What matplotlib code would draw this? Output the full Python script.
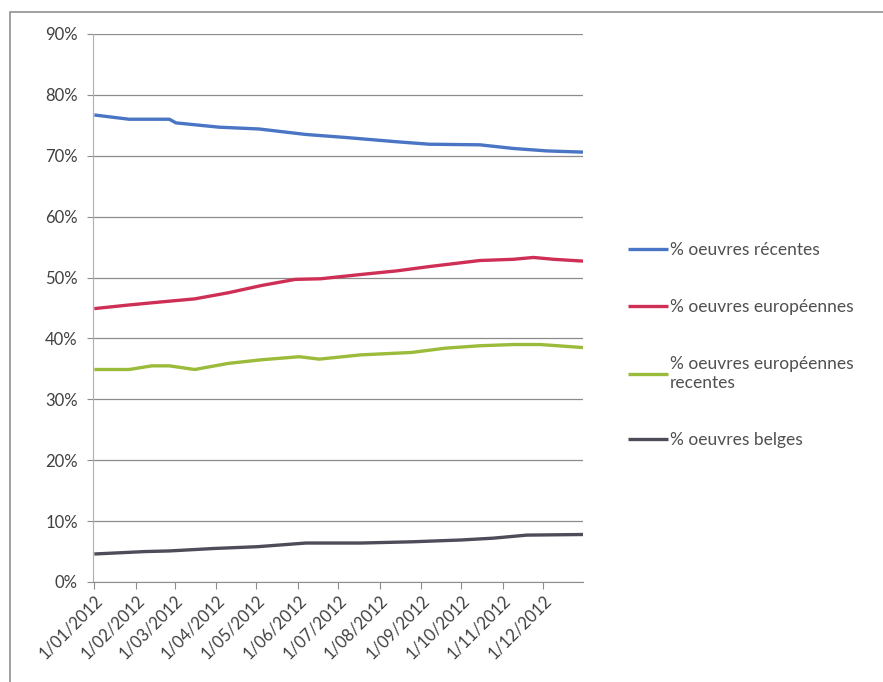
import matplotlib
matplotlib.use('Agg')
from matplotlib import pyplot as plt
import matplotlib.dates as mdates
from matplotlib.ticker import FuncFormatter
import pandas as pd

# values (% by date)
recentes_dates = ['2012-01-01', '2012-01-27', '2012-02-26', '2012-03-02', '2012-04-03',
                  '2012-05-03', '2012-06-07', '2012-07-07', '2012-08-14', '2012-09-07',
                  '2012-10-15', '2012-11-09', '2012-12-04', '2012-12-31']
recentes = [76.7, 76.0, 76.0, 75.4, 74.7, 74.4, 73.5, 73.0, 72.3, 71.9, 71.8, 71.2, 70.8, 70.6]

europ_dates = ['2012-01-01', '2012-01-27', '2012-02-20', '2012-03-16', '2012-04-10',
               '2012-05-05', '2012-05-30', '2012-06-18', '2012-07-18', '2012-08-14',
               '2012-09-07', '2012-10-15', '2012-11-09', '2012-11-24', '2012-12-09',
               '2012-12-31']
europ = [44.9, 45.5, 46.0, 46.5, 47.5, 48.7, 49.7, 49.8, 50.5, 51.1, 51.8, 52.8, 53.0, 53.3,
         53.0, 52.7]

europ_rec_dates = ['2012-01-01', '2012-01-27', '2012-02-13', '2012-02-26', '2012-03-16',
                   '2012-04-10', '2012-05-05', '2012-06-02', '2012-06-17', '2012-07-18',
                   '2012-08-25', '2012-09-19', '2012-10-15', '2012-11-09', '2012-11-29',
                   '2012-12-12', '2012-12-31']
europ_rec = [34.9, 34.9, 35.5, 35.5, 34.9, 35.9, 36.5, 37.0, 36.6, 37.3, 37.7, 38.4, 38.8, 39.0,
             39.0, 38.8, 38.5]

belges_dates = ['2012-01-01', '2012-02-08', '2012-02-26', '2012-03-30', '2012-05-02',
                '2012-06-07', '2012-07-18', '2012-08-25', '2012-10-01', '2012-10-25',
                '2012-11-19', '2012-12-31']
belges = [4.6, 5.0, 5.1, 5.5, 5.8, 6.4, 6.4, 6.6, 6.9, 7.2, 7.7, 7.8]

labels = ['% oeuvres récentes', '% oeuvres européennes',
          '% oeuvres européennes\nrecentes', '% oeuvres belges']
colors = ['#4a74c4', '#cf2f55', '#9bbb3a', '#4d4d5a']

plt.rcParams['font.family'] = ['Lato', 'DejaVu Sans']

fig = plt.figure(figsize=(8.83, 6.82), dpi=100)
# outer frame
fig.add_artist(plt.Rectangle((10 / 883, -0.01), 1.0, 1 - 12 / 682 + 0.01,
                             transform=fig.transFigure, fill=False,
                             edgecolor='#909090', linewidth=1.2))

ax = fig.add_axes([93 / 883, 1 - 582 / 682, 490 / 883, 548 / 682])

series = [(recentes_dates, recentes), (europ_dates, europ),
          (europ_rec_dates, europ_rec), (belges_dates, belges)]
for (d, v), lab, c in zip(series, labels, colors):
    ax.plot(pd.to_datetime(d), v, color=c, linewidth=2.4, label=lab,
            solid_capstyle='butt')

ax.set_ylim(0, 90)
ax.set_yticks(range(0, 91, 10))
ax.yaxis.set_major_formatter(FuncFormatter(lambda y, _: '%d%%' % y))
ax.set_xlim(pd.Timestamp('2011-12-31'), pd.Timestamp('2012-12-31'))
ax.xaxis.set_major_locator(mdates.MonthLocator())
ax.xaxis.set_major_formatter(FuncFormatter(
    lambda x, _: '1/%02d/%d' % (mdates.num2date(x).month, mdates.num2date(x).year)))

ax.grid(axis='y', color='#8c8c8c', linewidth=0.9)
ax.set_axisbelow(True)
for s in ['top', 'right']:
    ax.spines[s].set_visible(False)
ax.spines['left'].set_color('#b0b0b0')
ax.spines['bottom'].set_color('#8c8c8c')
ax.tick_params(axis='y', length=4, color='#8c8c8c', labelsize=12, labelcolor='#404040', pad=7)
ax.tick_params(axis='x', length=5, color='#8c8c8c', labelsize=12, labelcolor='#404040', pad=2)
for t in ax.get_xticklabels():
    t.set_rotation(45)
    t.set_ha('right')
    t.set_rotation_mode('anchor')

fig.legend(loc='upper left', bbox_to_anchor=(612 / 883, 1 - 226 / 682), frameon=False,
           fontsize=12.5, labelspacing=2.38, handlelength=2.35, handletextpad=0.1,
           labelcolor='#505050')

fig.savefig('out.png', dpi=100)
